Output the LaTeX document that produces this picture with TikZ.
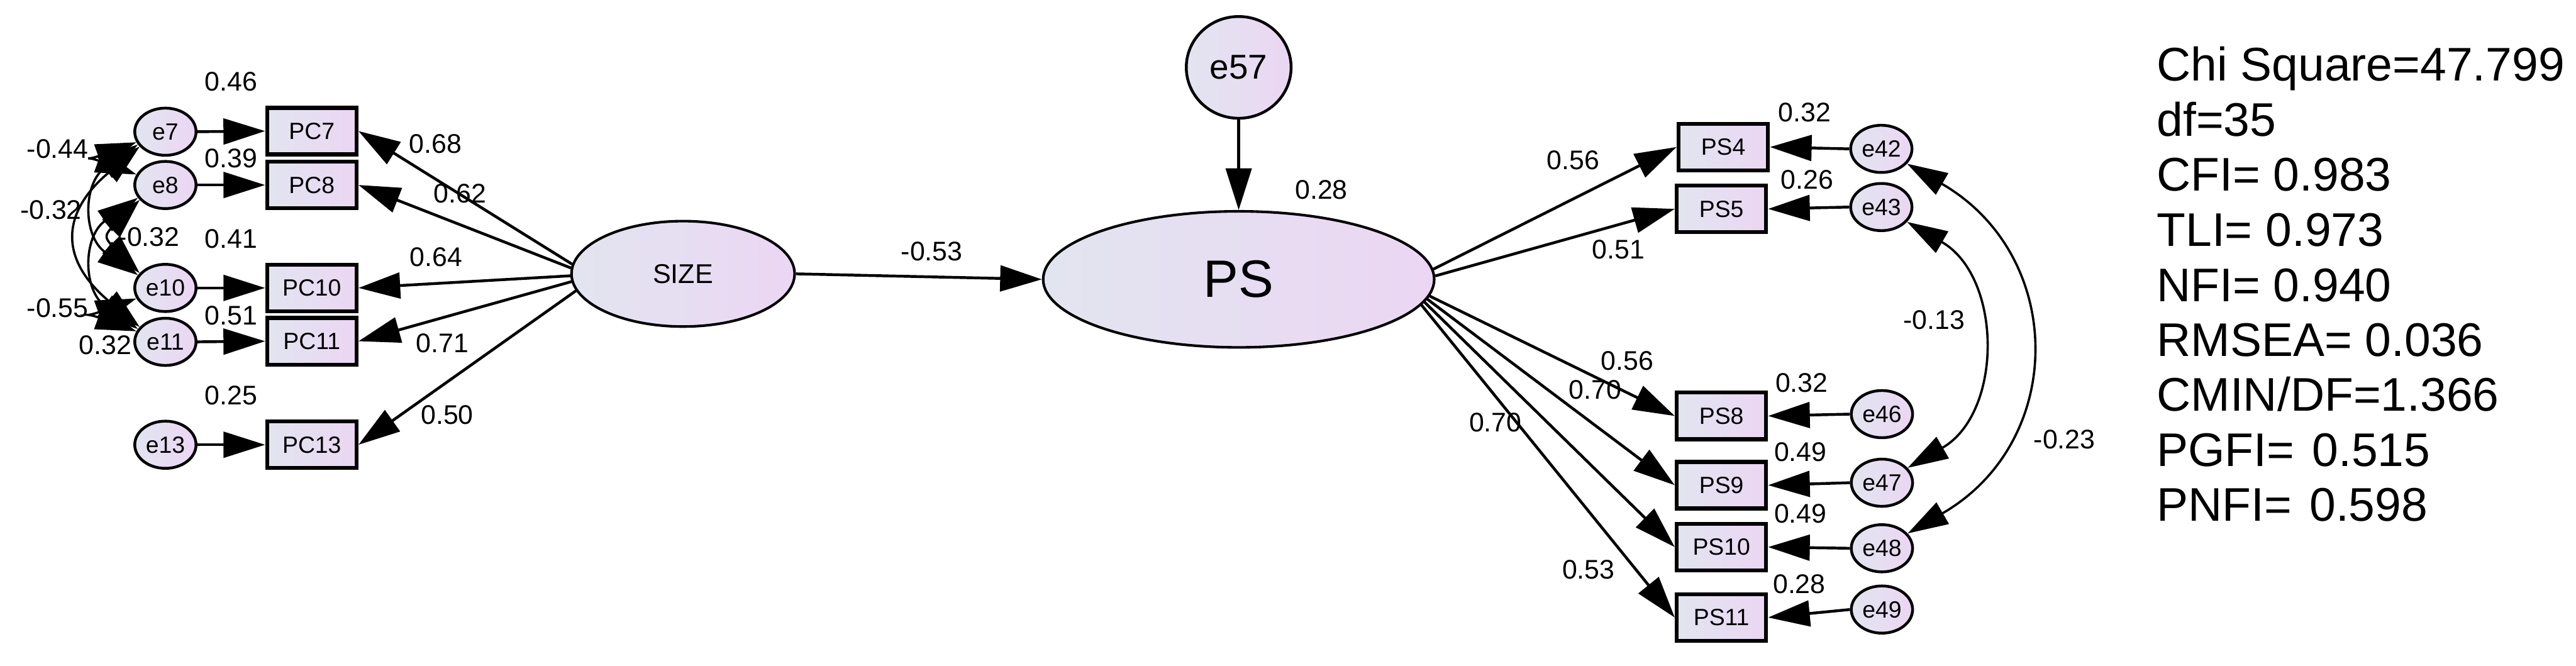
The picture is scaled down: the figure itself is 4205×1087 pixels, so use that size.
\documentclass[tikz,border=0pt]{standalone}
\usepackage{fontspec}
\setmainfont{Liberation Sans}
\usetikzlibrary{arrows.meta,shapes.geometric}
\definecolor{fillL}{RGB}{226,229,240}
\definecolor{fillR}{RGB}{235,214,243}
\tikzset{
  gradfill/.style={left color=fillL, right color=fillR, draw=black, inner sep=0pt},
  obs/.style={gradfill, rectangle, minimum width=1.46cm, minimum height=0.76cm, line width=1.8pt, font=\fontsize{10.9pt}{12pt}\selectfont},
  err/.style={gradfill, ellipse, minimum width=1.0cm, minimum height=0.77cm, line width=1.3pt, font=\fontsize{10.9pt}{12pt}\selectfont},
  lat/.style={gradfill, ellipse, line width=1.2pt},
  numlbl/.style={font=\fontsize{12.5pt}{14pt}\selectfont, inner sep=0pt},
  fitline/.style={font=\fontsize{21.9pt}{26pt}\selectfont, inner sep=0pt, anchor=base west},
  arr/.style={line width=1.3pt, -{Triangle[length=0.68cm,width=0.42cm]}},
  cov/.style={line width=1.05pt, {Triangle[length=0.66cm,width=0.4cm]}-{Triangle[length=0.66cm,width=0.4cm]}},
}
\begin{document}
\begin{tikzpicture}[x=0.01cm,y=-0.01cm]
\useasboundingbox (0,0) rectangle (4205,1087);

% ---------- left block ----------
\node[err] (e7)  at (270,215) {e7};
\node[err] (e8)  at (270,302) {e8};
\node[err] (e10) at (270,470) {e10};
\node[err] (e11) at (270,558) {e11};
\node[err] (e13) at (270,726) {e13};

\node[obs] (PC7)  at (509,214) {PC7};
\node[obs] (PC8)  at (509,302) {PC8};
\node[obs] (PC10) at (509,470) {PC10};
\node[obs] (PC11) at (509,557) {PC11};
\node[obs] (PC13) at (509,726) {PC13};

\node[lat, minimum width=3.64cm, minimum height=1.72cm, font=\fontsize{12.6pt}{14pt}\selectfont] (SIZE) at (1115,447) {SIZE};
\node[lat, minimum width=6.38cm, minimum height=2.22cm, font=\fontsize{24.4pt}{28pt}\selectfont] (PS) at (2022,456) {PS};
\node[lat, minimum width=1.71cm, minimum height=1.66cm, line width=1.3pt, font=\fontsize{16pt}{18pt}\selectfont] (e57) at (2022,110) {e57};

% ---------- right block ----------
\node[obs] (PS4)  at (2813,240) {PS4};
\node[obs] (PS5)  at (2810,341) {PS5};
\node[obs] (PS8)  at (2810,679) {PS8};
\node[obs] (PS9)  at (2810,792) {PS9};
\node[obs] (PS10) at (2810,893) {PS10};
\node[obs] (PS11) at (2810,1008) {PS11};

\node[err] (e42) at (3071,243) {e42};
\node[err] (e43) at (3071,338) {e43};
\node[err] (e46) at (3072,676) {e46};
\node[err] (e47) at (3072,788) {e47};
\node[err] (e48) at (3072,895) {e48};
\node[err] (e49) at (3072,995) {e49};

% ---------- arrows ----------
\foreach \a/\b in {e7/PC7,e8/PC8,e10/PC10,e11/PC11,e13/PC13}
  \draw[arr] (\a.east) -- (\b.west);
\draw[arr] (SIZE.175) -- (PC7.east);
\draw[arr] (SIZE.177) -- (PC8.east);
\draw[arr] (SIZE.181) -- (PC10.east);
\draw[arr] (SIZE.184) -- (PC11.east);
\draw[arr] (SIZE.189) -- (PC13.east);
\draw[arr] (SIZE.east) -- (PS.west);
\draw[arr] (e57.south) -- (PS.north);
\draw[arr] (PS.3)  -- (PS4.west);
\draw[arr] (PS.1)  -- (PS5.west);
\draw[arr] (PS.-5) -- (PS8.west);
\draw[arr] (PS.-6) -- (PS9.west);
\draw[arr] (PS.-7) -- (PS10.west);
\draw[arr] (PS.-8) -- (PS11.west);
\foreach \a/\b in {e42/PS4,e43/PS5,e46/PS8,e47/PS9,e48/PS10,e49/PS11}
  \draw[arr] (\a.west) -- (\b.east);

% ---------- covariances ----------
\draw[cov] (e7.200) .. controls +(200:0.9cm) and +(160:0.9cm) .. (e8.160);
\draw[cov] (e10.200) .. controls +(200:0.9cm) and +(160:0.9cm) .. (e11.160);
\draw[cov] (e8.210) .. controls +(225:0.8cm) and +(135:0.8cm) .. (e10.150);
\draw[cov] (e7.205) .. controls +(215:1.1cm) and +(145:1.1cm) .. (e10.155);
\draw[cov] (e8.205) .. controls +(215:1.1cm) and +(145:1.1cm) .. (e11.155);
\draw[cov] (e7.210) .. controls +(220:1.7cm) and +(140:1.7cm) .. (e11.150);
\draw[cov] (e43.330) .. controls +(330:1.8cm) and +(30:1.8cm) .. (e47.30);
\draw[cov] (e42.330) .. controls +(330:3.0cm) and +(30:3.0cm) .. (e48.30);

% ---------- labels ----------
\node[numlbl] (l046) at (377,133) {0.46};
\node[numlbl] (l039) at (377,258) {0.39};
\node[numlbl] (l041) at (377,390) {0.41};
\node[numlbl] (l051) at (377,515) {0.51};
\node[numlbl] (l025) at (377,645) {0.25};
\node[numlbl] (lm044) at (94,243) {-0.44};
\node[numlbl] (lm032a) at (83,343) {-0.32};
\node[numlbl] (lm032b) at (243,387) {-0.32};
\node[numlbl] (lm055) at (94,503) {-0.55};
\node[numlbl] (l032) at (172,563) {0.32};
\node[numlbl] (l068) at (711,235) {0.68};
\node[numlbl] (l062) at (751,316) {0.62};
\node[numlbl] (l064) at (712,420) {0.64};
\node[numlbl] (l071) at (722,560) {0.71};
\node[numlbl] (l050) at (730,677) {0.50};
\node[numlbl] (lm053) at (1521,410) {-0.53};
\node[numlbl] (l028) at (2157,310) {0.28};
\node[numlbl] (l056a) at (2568,262) {0.56};
\node[numlbl] (l051r) at (2642,407) {0.51};
\node[numlbl] (l056b) at (2656,589) {0.56};
\node[numlbl] (l070a) at (2604,636) {0.70};
\node[numlbl] (l070b) at (2441,690) {0.70};
\node[numlbl] (l053r) at (2593,930) {0.53};
\node[numlbl] (l032r1) at (2946,183) {0.32};
\node[numlbl] (l026) at (2950,293) {0.26};
\node[numlbl] (l032r2) at (2941,625) {0.32};
\node[numlbl] (l049a) at (2939,738) {0.49};
\node[numlbl] (l049b) at (2939,838) {0.49};
\node[numlbl] (l028r) at (2937,953) {0.28};
\node[numlbl] (lm013) at (3157,522) {-0.13};
\node[numlbl] (lm023) at (3370,717) {-0.23};

% ---------- fit indices ----------
\node[fitline] (fit1) at (3520,132) {Chi Square=47.799};
\node[fitline] (fit2) at (3520,222) {df=35};
\node[fitline] (fit3) at (3520,312) {CFI= 0.983};
\node[fitline] (fit4) at (3520,402) {TLI= 0.973};
\node[fitline] (fit5) at (3520,492) {NFI= 0.940};
\node[fitline] (fit6) at (3520,582) {RMSEA= 0.036};
\node[fitline] (fit7) at (3520,671) {CMIN/DF=1.366};
\node[fitline] (fit8) at (3520,761) {PGFI=\hspace{0.29cm}0.515};
\node[fitline] (fit9) at (3520,851) {PNFI=\hspace{0.29cm}0.598};
\end{tikzpicture}
\end{document}
